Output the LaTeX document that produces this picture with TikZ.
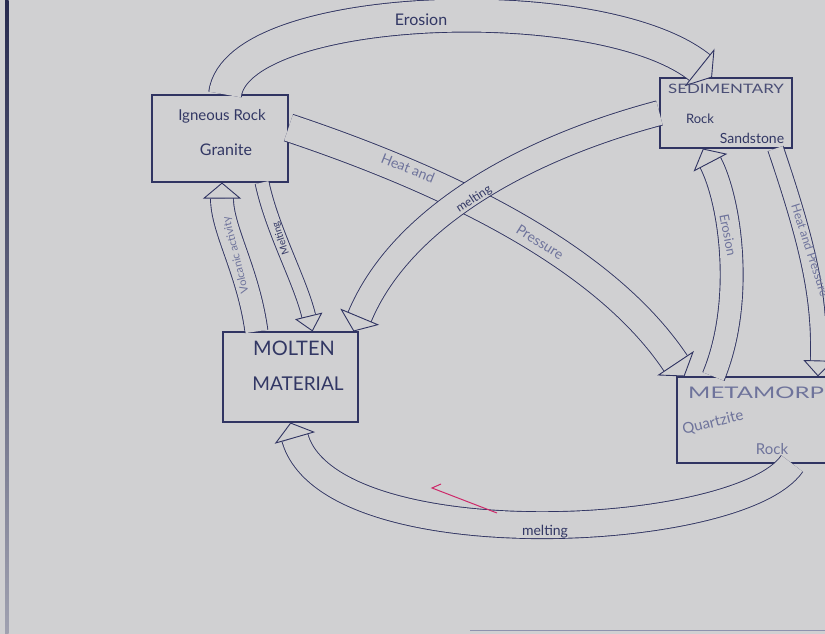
\documentclass[tikz,border=0pt]{standalone}
\usepackage{fontspec}
\setmainfont{Lato}
\usetikzlibrary{arrows.meta}
\definecolor{bg}{RGB}{208,208,210}
\definecolor{pen}{RGB}{48,52,98}
\definecolor{penlight}{RGB}{100,105,150}
\definecolor{ink}{RGB}{50,55,100}
\definecolor{inklight}{RGB}{110,115,155}
\definecolor{redpen}{RGB}{205,40,105}
\begin{document}
\begin{tikzpicture}[x=1pt,y=-1pt,
  box/.style 2 args={draw=pen, line width=1.1pt, minimum width=#1, minimum height=#2, inner sep=0pt},
  txt/.style={text=ink, inner sep=0pt},
  band/.style 2 args={draw=pen, line width=0.9pt, double=bg, double distance=#1,
     -{Triangle[open, fill=bg, length=16pt 0, width=#2 0, line width=0.9pt 0]}},
]
\fill[bg] (0,0) rectangle (825,634);
\useasboundingbox (0,0) rectangle (825,634);
\begin{scope}
\clip (0,0) rectangle (825,634);
% paper edges
\shade[top color=pen!80!black, bottom color=bg!70!pen] (5,0) rectangle (8.5,634);
\draw[penlight!60!bg, line width=1pt] (470,630) -- (825,630);

% boxes
\node[box={136pt}{87pt}] (ign) at (220,138.5) {};
\node[box={132pt}{70pt}] (sed) at (726,113) {};
\node[box={170pt}{86pt}] (met) at (762,420) {};
\node[box={135pt}{90pt}] (mol) at (290.5,377) {};

% arrows (hollow bands)
\draw[band={32pt}{48pt}] ([xshift=5pt]ign.north) .. controls (236,2) and (600,-12) .. ([xshift=-14pt]sed.north);
\draw[band={27pt}{44pt}] (ign.9) .. controls (430,175) and (600,250) .. ([xshift=8pt]met.north west);
\draw[band={24pt}{42pt}] (sed.west) .. controls (520,150) and (400,220) .. ([xshift=-5pt]mol.north east);
\draw[band={22pt}{38pt}] ([xshift=-34pt]mol.north) .. controls (248,270) and (222,230) .. ([xshift=2pt]ign.south);
\draw[band={13pt}{28pt}] ([xshift=42pt]ign.south) .. controls (272,230) and (300,280) .. ([xshift=22pt]mol.north);
\draw[band={22pt}{38pt}] ([xshift=37pt]met.north west) .. controls (745,300) and (730,200) .. ([xshift=-23pt]sed.south);
\draw[band={15pt}{30pt}] ([xshift=-17pt]sed.south east) .. controls (810,250) and (820,300) .. ([xshift=56pt]met.north);
\draw[band={26pt}{42pt}] ([xshift=30pt]met.south) .. controls (740,540) and (330,560) .. (mol.south);

% box texts
\node[txt, font=\fontsize{15}{15}\selectfont] (ignA) at (222,116) {Igneous Rock};
\node[txt, font=\fontsize{16}{16}\selectfont] (ignB) at (226,150) {Granite};
\node[txt, text=ink!85!bg, font=\fontsize{13}{13}\selectfont] (sedA) at (726,89) {\scalebox{1.3}[1]{SEDIMENTARY}};
\node[txt, font=\fontsize{13}{13}\selectfont] (sedB) at (700,119) {Rock};
\node[txt, font=\fontsize{14}{14}\selectfont] (sedC) at (752,138) {Sandstone};
\node[txt, text=inklight, anchor=west, font=\fontsize{16}{16}\selectfont] (metA) at (688,393) {\scalebox{1.5}[1]{METAMORPHIC}};
\node[txt, text=inklight, rotate=14, font=\fontsize{15}{15}\selectfont] (metB) at (713,423) {Quartzite};
\node[txt, text=inklight, font=\fontsize{15}{15}\selectfont] (metC) at (772,449) {Rock};
\node[txt, font=\fontsize{20}{20}\selectfont] (molA) at (294,348) {MOLTEN};
\node[txt, font=\fontsize{19}{19}\selectfont] (molB) at (298,384) {MATERIAL};

% band labels
\node[txt, font=\fontsize{16}{16}\selectfont] (lEro1) at (421,20) {Erosion};
\node[txt, text=inklight, rotate=-22, font=\fontsize{14}{14}\selectfont] (lHP1) at (408,168) {Heat and};
\node[txt, text=inklight, rotate=-32, font=\fontsize{14}{14}\selectfont] (lHP2) at (540,242) {Pressure};
\node[txt, rotate=33, font=\fontsize{12}{12}\selectfont] (lMelt1) at (474,199) {melting};
\node[txt, text=inklight, rotate=104, font=\fontsize{11}{11}\selectfont] (lVolc) at (236,255) {Volcanic activity};
\node[txt, rotate=109, font=\fontsize{10}{10}\selectfont] (lMelt2) at (281,238) {Melting};
\node[txt, text=inklight, rotate=-79, font=\fontsize{13}{13}\selectfont] (lEro2) at (728,235) {Erosion};
\node[txt, text=inklight, rotate=-72, font=\fontsize{12}{12}\selectfont] (lHP3) at (810,250) {Heat and Pressure};
\node[txt, font=\fontsize{14}{14}\selectfont] (lMelt3) at (545,532) {melting};

% stray red pen mark
\draw[redpen, line width=1pt] (497,513) -- (432,488) -- (441,484);
\end{scope}
\end{tikzpicture}
\end{document}
